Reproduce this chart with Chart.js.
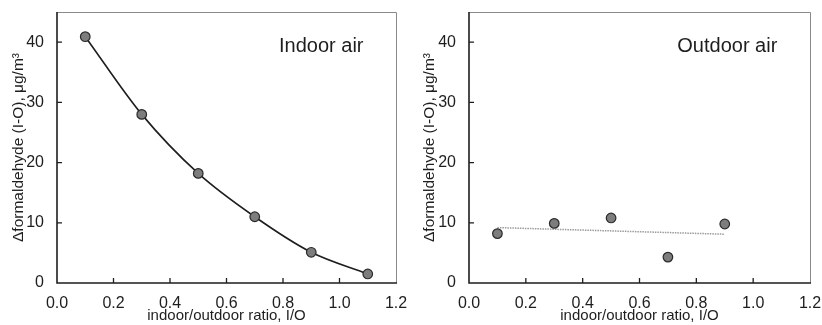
<!DOCTYPE html>
<html><head><meta charset="utf-8">
<script src="https://cdn.jsdelivr.net/npm/chart.js@4"></script>
<style>
html,body{margin:0;padding:0;background:#fff;overflow:hidden;}
.wrap{position:absolute;top:0;width:411px;height:325px;}
#w1{left:0;} #w2{left:411px;}
canvas{display:block;}
</style></head><body>
<div class="wrap" id="w1"><canvas id="c1" width="411" height="325"></canvas></div>
<div class="wrap" id="w2"><canvas id="c2" width="411" height="325"></canvas></div>
<script>
const ratioIndoor = [0.1, 0.3, 0.5, 0.7, 0.9, 1.1];
const deltaIndoor = [40.9, 28.0, 18.2, 11.0, 5.1, 1.5];
const ratioOutdoor = [0.1, 0.3, 0.5, 0.7, 0.9];
const deltaOutdoor = [8.2, 9.9, 10.8, 4.3, 9.8];
const trendOutdoorX = [0.1, 0.9];
const trendOutdoorY = [9.2, 8.1];
const xTicks = [0.0, 0.2, 0.4, 0.6, 0.8, 1.0, 1.2];
const yTicks = [0, 10, 20, 30, 40];

const FONT = "'Liberation Sans', Arial, sans-serif";
const INK = '#1e1e1e';

function pts(xs, ys){ return xs.map((x,i)=>({x:x, y:ys[i]})); }

const framePlugin = {
  id:'frame',
  afterDraw(chart, args, opts){
    const ctx = chart.ctx, a = chart.chartArea;
    const xs = chart.scales.x, ys = chart.scales.y;
    ctx.save();
    ctx.strokeStyle = '#8a8a8a'; ctx.lineWidth = 1;
    ctx.beginPath();
    ctx.moveTo(a.left, a.top+0.5); ctx.lineTo(a.right+0.5, a.top+0.5); ctx.lineTo(a.right+0.5, a.bottom);
    ctx.stroke();
    ctx.strokeStyle = INK; ctx.lineWidth = 1.6;
    ctx.beginPath();
    ctx.moveTo(a.left, a.top); ctx.lineTo(a.left, a.bottom); ctx.lineTo(a.right+1, a.bottom);
    ctx.stroke();
    ctx.lineWidth = 1.3;
    ctx.beginPath();
    xTicks.forEach(v=>{ const px = xs.getPixelForValue(v); if(px>a.left+2 && px<a.right-2){ ctx.moveTo(px, a.bottom); ctx.lineTo(px, a.bottom-5);} });
    yTicks.forEach(v=>{ const py = ys.getPixelForValue(v); if(py<a.bottom-2){ ctx.moveTo(a.left, py); ctx.lineTo(a.left+5, py);} });
    ctx.stroke();
    ctx.fillStyle = INK; ctx.font = "20px " + FONT;
    ctx.textAlign = 'right'; ctx.textBaseline = 'middle';
    ctx.fillText(opts.text, xs.getPixelForValue(1.085), ys.getPixelForValue(39.2));
    ctx.restore();
  }
};

function makeOptions(label, padRight, yWidth){
  return {
    responsive:false, animation:false, devicePixelRatio:1,
    layout:{padding:{top:12, right:padRight, bottom:0, left:9}},
    plugins:{legend:{display:false}, tooltip:{enabled:false}, frame:{text:label}},
    scales:{
      x:{type:'linear', min:0, max:1.2,
        afterBuildTicks(s){ s.ticks = xTicks.map(v=>({value:v})); },
        afterFit(s){ s.height = 42; s.paddingLeft = 0; s.paddingRight = 0; },
        grid:{display:false, drawTicks:false}, border:{display:false},
        ticks:{padding:11, color:INK, font:{family:FONT, size:16}, callback:v=>Number(v).toFixed(1), maxRotation:0, autoSkip:false},
        title:{display:true, text:'indoor/outdoor ratio, I/O', color:INK, font:{family:FONT, size:15}, padding:{top:0,bottom:0}}
      },
      y:{type:'linear', min:0, max:45,
        afterBuildTicks(s){ s.ticks = yTicks.map(v=>({value:v})); },
        afterFit(s){ s.width = yWidth; s.paddingTop = 0; s.paddingBottom = 0; },
        grid:{display:false, drawTicks:false}, border:{display:false},
        ticks:{padding:13, color:INK, font:{family:FONT, size:16}},
        title:{display:true, text:'\u0394formaldehyde (I-O), \u03bcg/m\u00b3', color:INK, font:{family:FONT, size:15.5}, padding:{top:0,bottom:2}}
      }
    }
  };
}

const markerStyle = {pointRadius:4.8, pointBackgroundColor:'#7d7d7d', pointBorderColor:'#2a2a2a', pointBorderWidth:1.2, showLine:false};

new Chart(document.getElementById('c1'), {
  type:'scatter',
  data:{datasets:[
    Object.assign({data:pts(ratioIndoor, deltaIndoor), order:1}, markerStyle),
    {type:'line', data:pts(ratioIndoor, deltaIndoor), borderColor:INK, borderWidth:1.6, pointRadius:0, cubicInterpolationMode:'monotone', fill:false, order:2}
  ]},
  options:makeOptions('Indoor air', 15, 48),
  plugins:[framePlugin]
});

new Chart(document.getElementById('c2'), {
  type:'scatter',
  data:{datasets:[
    Object.assign({data:pts(ratioOutdoor, deltaOutdoor), order:1}, markerStyle),
    {type:'line', data:pts(trendOutdoorX, trendOutdoorY), borderColor:'#9a9a9a', borderWidth:1.5, borderDash:[1.5,1], pointRadius:0, fill:false, order:2}
  ]},
  options:makeOptions('Outdoor air', 12, 49),
  plugins:[framePlugin]
});
</script>
</body></html>
